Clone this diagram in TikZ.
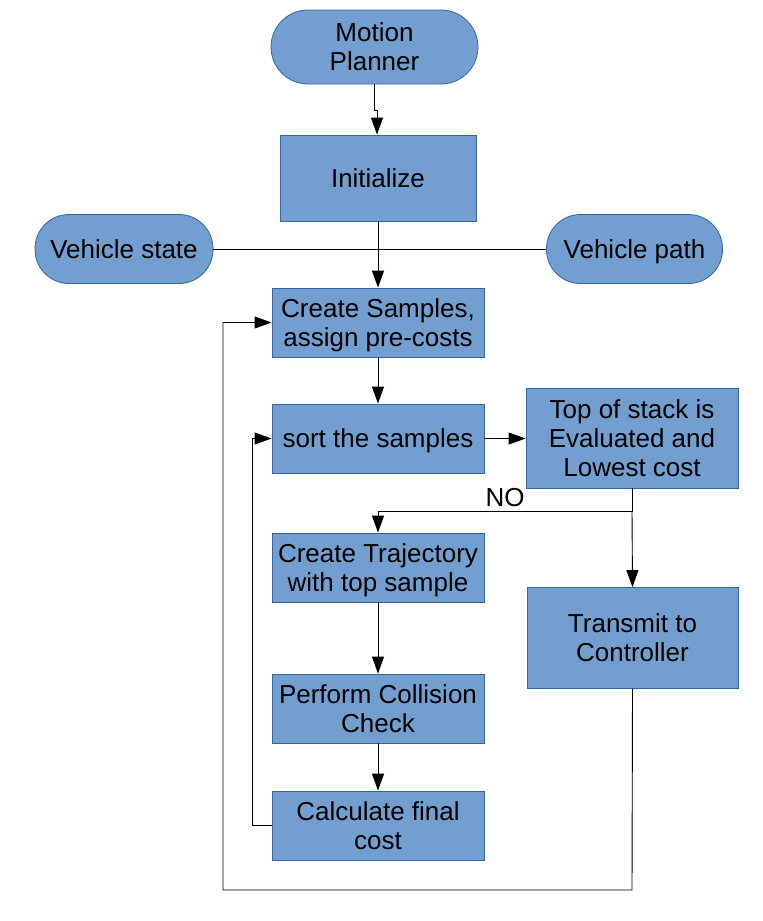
\documentclass[tikz,border=0pt]{standalone}
\usepackage{fontspec}
\setmainfont{Liberation Sans}
\usetikzlibrary{arrows.meta}
\definecolor{boxfill}{HTML}{729FCF}
\definecolor{boxline}{HTML}{3465A4}
\newcommand\tstrut{\rule{0pt}{25pt}}
\newcommand\bstrut{\rule[-6.4pt]{0pt}{6.4pt}}
\begin{document}
\begin{tikzpicture}[x=1pt,y=-1pt,
  every node/.style={font=\fontsize{26}{29}\selectfont, align=center, text=black, inner sep=0pt},
  box/.style={draw=boxline, fill=boxfill, line width=0.8pt},
  term/.style={box, rounded corners=#1},
  line/.style={draw=black, line width=0.9pt},
  arr/.style={line, -{Triangle[width=12pt,length=17pt]}}]
\useasboundingbox (0,0) rectangle (763,921);
\node[term=37pt, minimum width=207pt, minimum height=74pt] (mp) at (374.5,47) {\tstrut Motion\\Planner\bstrut};
\node[box, minimum width=196pt, minimum height=86pt] (init) at (378,178) {\tstrut Initialize\bstrut};
\node[term=34pt, minimum width=178pt, minimum height=69pt] (vs) at (124,249) {\tstrut Vehicle state\bstrut};
\node[term=34pt, minimum width=176pt, minimum height=69pt] (vp) at (634.5,249) {\tstrut Vehicle path\bstrut};
\node[box, minimum width=212pt, minimum height=69pt] (cs) at (378,322.5) {\tstrut Create Samples,\\assign pre-costs\bstrut};
\node[box, minimum width=212pt, minimum height=69pt] (sort) at (378,438.5) {\tstrut sort the samples\bstrut};
\node[box, minimum width=212pt, minimum height=100pt] (top) at (632,438) {\tstrut Top of stack is\\Evaluated and\\Lowest cost\bstrut};
\node[box, minimum width=212pt, minimum height=69pt] (traj) at (378,567.5) {\tstrut Create Trajectory\\with top sample\bstrut};
\node[box, minimum width=211pt, minimum height=101pt] (trans) at (632.5,638) {\tstrut Transmit to\\Controller\bstrut};
\node[box, minimum width=212pt, minimum height=69pt] (pcc) at (378,708.5) {\tstrut Perform Collision\\Check\bstrut};
\node[box, minimum width=212pt, minimum height=69pt] (calc) at (378,825.5) {\tstrut Calculate final\\cost\bstrut};
\node (no) at (505,497) {\tstrut NO\bstrut};
\coordinate (j1) at (377,110);
\coordinate (split) at (632,511);
\coordinate (l1) at (252,825.5);
\coordinate (b1) at (632,890);
\coordinate (b2) at (223,890);
% connectors
\draw[arr] (mp.south) |- (j1) -- (init.north -| j1);
\draw[line] (vs.east) -- (vp.west);
\draw[arr] (init.south) -- (cs.north);
\draw[arr] (cs.south) -- (sort.north);
\draw[arr] (sort.east) -- (sort.east -| top.west);
\draw[arr] (top.south) -- (split) -| (traj.north);
\draw[arr] (split) -- (trans.north);
\draw[arr] (traj.south) -- (pcc.north);
\draw[arr] (pcc.south) -- (calc.north);
\draw[arr] (calc.west) -- (l1) |- (sort.west);
\draw[arr] (trans.south) -- (b1) -- (b2) |- (cs.west);
\end{tikzpicture}
\end{document}
